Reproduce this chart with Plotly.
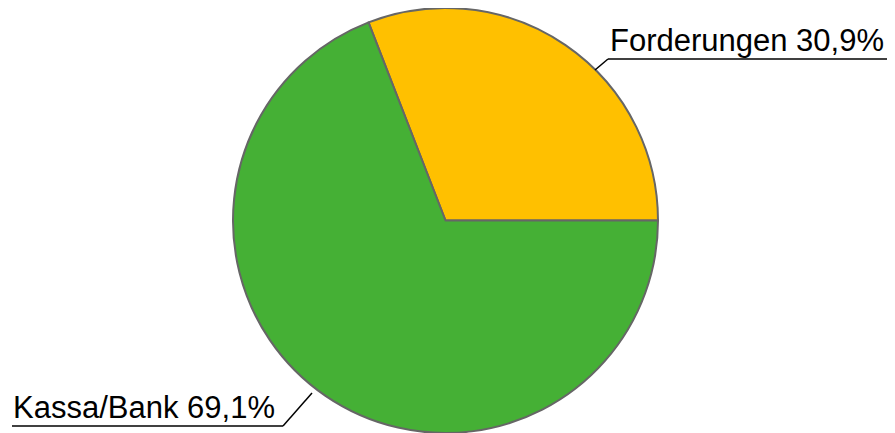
import plotly.graph_objects as go

LABELS = ["Forderungen", "Kassa/Bank"]
VALUES = [30.9, 69.1]
COLORS = ["#FFC000", "#45B035"]

# the page body has an 8px margin, so the figure is drawn inside it
OFF = 8
W, H = 895 - OFF, 433 - OFF


def px(x):
    return (x - OFF) / W


def py(y):
    return 1 - (y - OFF) / H


def pct(v):
    return f"{v:.1f}".replace(".", ",") + "%"


# first slice starts at 3 o'clock and runs counterclockwise
share = VALUES[0] / sum(VALUES)
rotation = 90 - 360 * share

fig = go.Figure(go.Pie(
    labels=LABELS,
    values=VALUES,
    marker=dict(colors=COLORS, line=dict(color="#666666", width=2)),
    sort=False,
    direction="counterclockwise",
    rotation=rotation,
    textinfo="none",
    hoverinfo="label+percent",
    domain=dict(x=[px(233), px(658)], y=[0, 1]),
    showlegend=False,
))

font = dict(family="Liberation Sans, Arial, sans-serif", size=31, color="#000000")

fig.add_annotation(
    x=px(608), y=py(60), xref="paper", yref="paper",
    text=f"{LABELS[0]} {pct(VALUES[0])}",
    xanchor="left", yanchor="bottom", showarrow=False, font=font,
)
fig.add_annotation(
    x=px(11), y=py(427), xref="paper", yref="paper",
    text=f"{LABELS[1]} {pct(VALUES[1])}",
    xanchor="left", yanchor="bottom", showarrow=False, font=font,
)

line = dict(color="#000000", width=1.5)
fig.add_shape(type="line", xref="paper", yref="paper",
              x0=px(595), y0=py(70), x1=px(608), y1=py(59), line=line)
fig.add_shape(type="line", xref="paper", yref="paper",
              x0=px(608), y0=py(59), x1=px(890), y1=py(59), line=line)
fig.add_shape(type="line", xref="paper", yref="paper",
              x0=px(312), y0=py(393), x1=px(283), y1=py(426), line=line)
fig.add_shape(type="line", xref="paper", yref="paper",
              x0=px(283), y0=py(426), x1=px(12), y1=py(426), line=line)

fig.update_layout(
    width=W,
    height=H,
    margin=dict(l=0, r=0, t=0, b=0),
    paper_bgcolor="white",
    plot_bgcolor="white",
)

fig.write_html("out.html")
